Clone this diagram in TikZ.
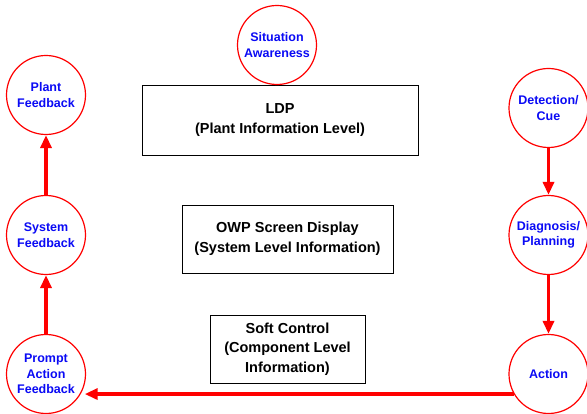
\documentclass[tikz,border=0pt]{standalone}
\usepackage{fontspec}
\setmainfont{Liberation Sans}
\usetikzlibrary{arrows.meta}
\definecolor{cred}{RGB}{255,0,0}
\definecolor{cblue}{RGB}{10,10,245}
\tikzset{
  stage/.style={circle, draw=cred, line width=1.2pt, fill=white, minimum size=79pt, inner sep=0pt,
    align=center, text=cblue, font=\bfseries\fontsize{12.5}{15.5}\selectfont},
  infobox/.style={rectangle, draw=black, line width=0.9pt, inner sep=0pt, align=center,
    font=\bfseries\fontsize{14.5}{19.5}\selectfont},
  flow/.style={draw=cred, line width=3.6pt, -{Triangle[length=13pt,width=11pt]}}
}
\begin{document}
\begin{tikzpicture}[x=1pt,y=-1pt]
\useasboundingbox (0,0) rectangle (587,414);
% boxes
\node[infobox, minimum width=276pt, minimum height=70pt] (ldp) at (280,120) {LDP\\(Plant Information Level)};
\node[infobox, minimum width=211pt, minimum height=68pt] (owp) at (287.5,239) {OWP Screen Display\\(System Level Information)};
\node[infobox, minimum width=155pt, minimum height=68pt] (soft) at (287.5,349) {Soft Control\\(Component Level\\Information)};
% circles
\node[stage] (sa) at (277,45) {Situation\\Awareness};
\node[stage] (plant) at (46,95) {Plant\\Feedback};
\node[stage] (system) at (46,235) {System\\Feedback};
\node[stage] (prompt) at (46,374) {Prompt\\Action\\Feedback};
\node[stage] (detect) at (548.5,108) {Detection/\\Cue};
\node[stage] (diag) at (548.5,235) {Diagnosis/\\Planning};
\node[stage] (action) at (548.5,374) {Action};
% arrows
\draw[flow] (prompt) -- (system);
\draw[flow] (system) -- (plant);
\draw[flow] (detect) -- (diag);
\draw[flow] (diag) -- (action);
\draw[flow, shorten >=4pt] (action.210) -- (prompt.330);
\end{tikzpicture}
\end{document}
